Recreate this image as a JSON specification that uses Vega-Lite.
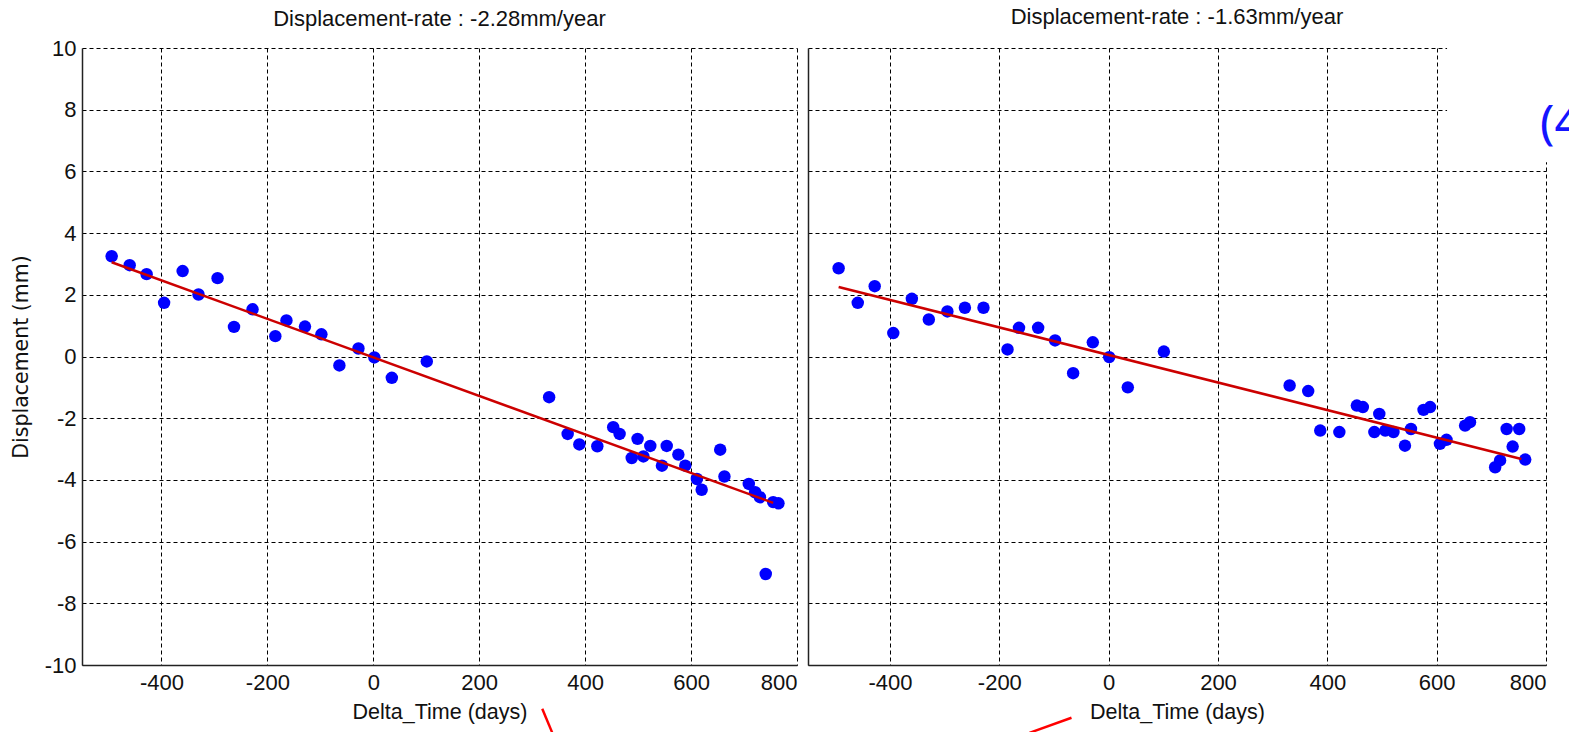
{
  "$schema": "https://vega.github.io/schema/vega-lite/v6.json",
  "background": "white",
  "padding": {"left": 11, "top": 6, "right": 0, "bottom": 0},
  "bounds": "flush",
  "spacing": 11,
  "config": {
    "font": "Liberation Sans",
    "view": {"stroke": null},
    "axis": {
      "grid": true,
      "gridColor": "#000000",
      "gridDash": [4, 3],
      "gridOpacity": 1,
      "gridWidth": 1,
      "domainColor": "#222222",
      "domainWidth": 1.5,
      "ticks": false,
      "labelFont": "Liberation Sans",
      "labelFontSize": 22,
      "labelColor": "#111111",
      "titleFont": "Liberation Sans",
      "titleFontSize": 21.5,
      "titleFontWeight": "normal",
      "titleColor": "#111111"
    },
    "title": {"font": "Liberation Sans", "fontSize": 22, "fontWeight": "normal", "color": "#111111"}
  },
  "datasets": {
    "left_pts": [
      {"t": -494, "d": 3.25}, {"t": -460, "d": 2.96}, {"t": -428, "d": 2.67}, {"t": -395, "d": 1.74},
      {"t": -360, "d": 2.77}, {"t": -330, "d": 2.01}, {"t": -294, "d": 2.54}, {"t": -263, "d": 0.96},
      {"t": -228, "d": 1.53}, {"t": -185, "d": 0.66}, {"t": -164, "d": 1.17}, {"t": -129, "d": 0.97},
      {"t": -98, "d": 0.72}, {"t": -64, "d": -0.29}, {"t": -28, "d": 0.26}, {"t": 2, "d": -0.03},
      {"t": 35, "d": -0.69}, {"t": 101, "d": -0.16}, {"t": 332, "d": -1.32}, {"t": 367, "d": -2.51},
      {"t": 389, "d": -2.85}, {"t": 423, "d": -2.91}, {"t": 453, "d": -2.29}, {"t": 465, "d": -2.51},
      {"t": 499, "d": -2.67}, {"t": 488, "d": -3.29}, {"t": 510, "d": -3.24}, {"t": 523, "d": -2.9},
      {"t": 545, "d": -3.54}, {"t": 554, "d": -2.9}, {"t": 576, "d": -3.18}, {"t": 589, "d": -3.54},
      {"t": 611, "d": -3.97}, {"t": 620, "d": -4.32}, {"t": 655, "d": -3.02}, {"t": 663, "d": -3.89},
      {"t": 709, "d": -4.13}, {"t": 721, "d": -4.4}, {"t": 730, "d": -4.56}, {"t": 741, "d": -7.05},
      {"t": 755, "d": -4.72}, {"t": 765, "d": -4.76}
    ],
    "left_fit": [{"t": -494, "d": 3.054}, {"t": 755, "d": -4.743}],
    "right_pts": [
      {"t": -494, "d": 2.86}, {"t": -459, "d": 1.74}, {"t": -428, "d": 2.28}, {"t": -394, "d": 0.76},
      {"t": -360, "d": 1.87}, {"t": -329, "d": 1.2}, {"t": -295, "d": 1.46}, {"t": -263, "d": 1.58},
      {"t": -229, "d": 1.58}, {"t": -185, "d": 0.23}, {"t": -164, "d": 0.93}, {"t": -129, "d": 0.93},
      {"t": -98, "d": 0.52}, {"t": -65, "d": -0.54}, {"t": -29, "d": 0.46}, {"t": 1, "d": -0.02},
      {"t": 35, "d": -1.0}, {"t": 101, "d": 0.16}, {"t": 331, "d": -0.94}, {"t": 365, "d": -1.12},
      {"t": 387, "d": -2.4}, {"t": 422, "d": -2.45}, {"t": 454, "d": -1.59}, {"t": 465, "d": -1.64},
      {"t": 495, "d": -1.86}, {"t": 486, "d": -2.45}, {"t": 506, "d": -2.4}, {"t": 521, "d": -2.45},
      {"t": 542, "d": -2.89}, {"t": 553, "d": -2.35}, {"t": 576, "d": -1.73}, {"t": 588, "d": -1.64},
      {"t": 606, "d": -2.83}, {"t": 618, "d": -2.7}, {"t": 652, "d": -2.24}, {"t": 661, "d": -2.13},
      {"t": 707, "d": -3.59}, {"t": 716, "d": -3.37}, {"t": 728, "d": -2.35}, {"t": 739, "d": -2.92},
      {"t": 751, "d": -2.35}, {"t": 762, "d": -3.34}
    ],
    "right_fit": [{"t": -494, "d": 2.255}, {"t": 755, "d": -3.32}]
  },
  "hconcat": [
    {
      "width": 715,
      "height": 617,
      "title": {"text": "Displacement-rate : -2.28mm/year", "offset": 6},
      "layer": [
        {
          "data": {"name": "left_pts"},
          "mark": {"type": "circle", "size": 155, "color": "#0000ff", "opacity": 1},
          "encoding": {
            "x": {
              "field": "t", "type": "quantitative",
              "scale": {"domain": [-550, 800], "nice": false, "zero": false},
              "axis": {
                "values": [-400, -200, 0, 200, 400, 600, 800],
                "labelExpr": "datum.value < 0 ? '-' + abs(datum.value) : '' + datum.value",
                "title": "Delta_Time (days)", "labelPadding": 7, "titlePadding": 8
              }
            },
            "y": {
              "field": "d", "type": "quantitative",
              "scale": {"domain": [-10, 10], "nice": false},
              "axis": {
                "values": [-10, -8, -6, -4, -2, 0, 2, 4, 6, 8, 10],
                "labelExpr": "datum.value < 0 ? '-' + abs(datum.value) : '' + datum.value",
                "title": "Displacement (mm)", "titleFont": "DejaVu Sans", "titleFontSize": 20.5,
                "labelPadding": 6, "titlePadding": 13
              }
            }
          }
        },
        {
          "data": {"name": "left_fit"},
          "mark": {"type": "line", "color": "#cc0000", "strokeWidth": 2.5},
          "encoding": {
            "x": {"field": "t", "type": "quantitative"},
            "y": {"field": "d", "type": "quantitative"}
          }
        },
        {
          "data": {"values": [{}]},
          "mark": {"type": "rule", "color": "#ff0000", "strokeWidth": 2.5},
          "encoding": {
            "x": {"datum": 319}, "y": {"datum": -11.42},
            "x2": {"datum": 338}, "y2": {"datum": -12.2}
          }
        }
      ]
    },
    {
      "width": 738,
      "height": 617,
      "title": {"text": "Displacement-rate : -1.63mm/year", "offset": 17},
      "layer": [
        {
          "data": {"name": "right_pts"},
          "mark": {"type": "circle", "size": 155, "color": "#0000ff", "opacity": 1},
          "encoding": {
            "x": {
              "field": "t", "type": "quantitative",
              "scale": {"domain": [-550, 800], "nice": false, "zero": false},
              "axis": {
                "values": [-400, -200, 0, 200, 400, 600, 800],
                "labelExpr": "datum.value < 0 ? '-' + abs(datum.value) : '' + datum.value",
                "title": "Delta_Time (days)", "labelPadding": 7, "titlePadding": 8
              }
            },
            "y": {
              "field": "d", "type": "quantitative",
              "scale": {"domain": [-10, 10], "nice": false},
              "axis": {"values": [-10, -8, -6, -4, -2, 0, 2, 4, 6, 8, 10], "title": null, "labels": false}
            }
          }
        },
        {
          "data": {"name": "right_fit"},
          "mark": {"type": "line", "color": "#cc0000", "strokeWidth": 2.5},
          "encoding": {
            "x": {"field": "t", "type": "quantitative"},
            "y": {"field": "d", "type": "quantitative"}
          }
        },
        {
          "data": {"values": [{}]},
          "mark": {"type": "rect", "color": "white", "opacity": 1},
          "encoding": {
            "x": {"datum": 619}, "x2": {"datum": 900},
            "y": {"datum": 6.3}, "y2": {"datum": 10.05}
          }
        },
        {
          "data": {"values": [{}]},
          "mark": {"type": "text", "text": "(4", "color": "#1414ff", "font": "Noto Sans", "fontSize": 48, "align": "left", "baseline": "middle"},
          "encoding": {
            "x": {"datum": 789}, "y": {"datum": 7.5}
          }
        },
        {
          "data": {"values": [{}]},
          "mark": {"type": "rule", "color": "#ff0000", "strokeWidth": 2.5},
          "encoding": {
            "x": {"datum": -68}, "y": {"datum": -11.71},
            "x2": {"datum": -145}, "y2": {"datum": -12.2}
          }
        }
      ]
    }
  ]
}
